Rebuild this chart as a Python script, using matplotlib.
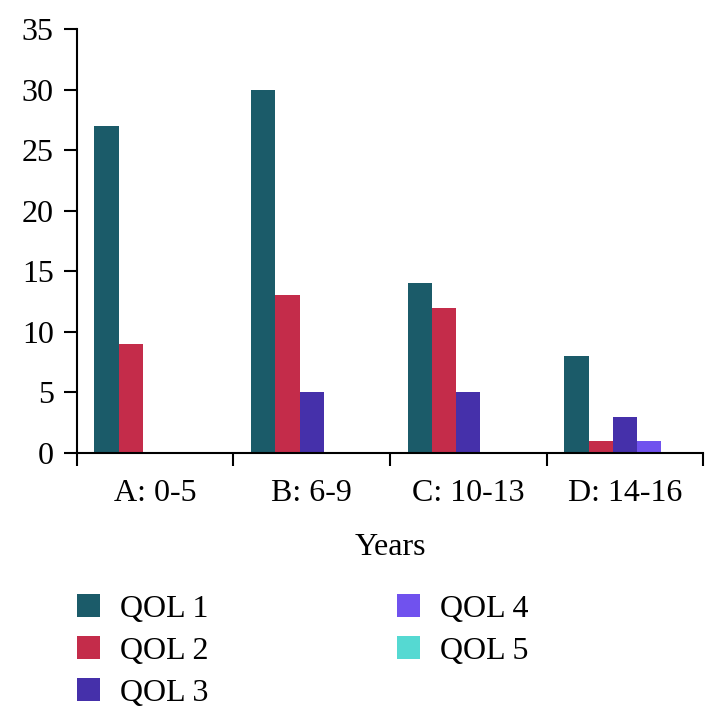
import matplotlib
matplotlib.use("Agg")
import matplotlib.pyplot as plt
import numpy as np

categories = ['A: 0-5', 'B: 6-9', 'C: 10-13', 'D: 14-16']
series = ['QOL 1', 'QOL 2', 'QOL 3', 'QOL 4', 'QOL 5']
qol1 = [27, 30, 14, 8]
qol2 = [9, 13, 12, 1]
qol3 = [0, 5, 5, 3]
qol4 = [0, 0, 0, 1]
qol5 = [0, 0, 0, 0]
values = [qol1, qol2, qol3, qol4, qol5]
colors = ['#1b5b69', '#c42c4a', '#4530aa', '#7052ee', '#55d9d2']

plt.rcParams['font.family'] = ['Liberation Serif', 'DejaVu Serif']
fs = 23

fig = plt.figure(figsize=(7.25, 7.27), dpi=100)
ax = fig.add_axes([0.106, 0.377, 0.864, 0.583])

x = np.arange(len(categories))
w = 0.155
handles = []
for i, (name, vals) in enumerate(zip(series, values)):
    h = ax.bar(x + (i - 2) * w, vals, width=w, color=colors[i], label=name)
    handles.append(h)

ax.set_xlim(-0.5, len(categories) - 0.5)
ax.set_ylim(0, 35)
ax.set_yticks(np.arange(0, 36, 5))
ax.set_xticks(x)
ax.set_xticklabels(categories)
ax.set_xticks(np.arange(-0.5, len(categories)), minor=True)

for s in ['top', 'right']:
    ax.spines[s].set_visible(False)
for s in ['left', 'bottom']:
    ax.spines[s].set_linewidth(1.5)

ax.tick_params(axis='y', labelsize=fs, length=9.5, width=1.5, pad=7)
ax.tick_params(axis='x', which='major', labelsize=fs, length=0, pad=19)
ax.tick_params(axis='x', which='minor', length=9.5, width=1.5)
ax.set_xlabel('Years', fontsize=fs, labelpad=18)

fig.legend(handles=handles, labels=series, loc='upper left',
           bbox_to_anchor=(0.106, 0.183), ncol=2, frameon=False,
           fontsize=fs, handlelength=0.72, handleheight=0.72,
           handletextpad=0.63, columnspacing=5.9, labelspacing=0.39,
           borderaxespad=0, borderpad=0)

fig.savefig('out.png', dpi=100)
